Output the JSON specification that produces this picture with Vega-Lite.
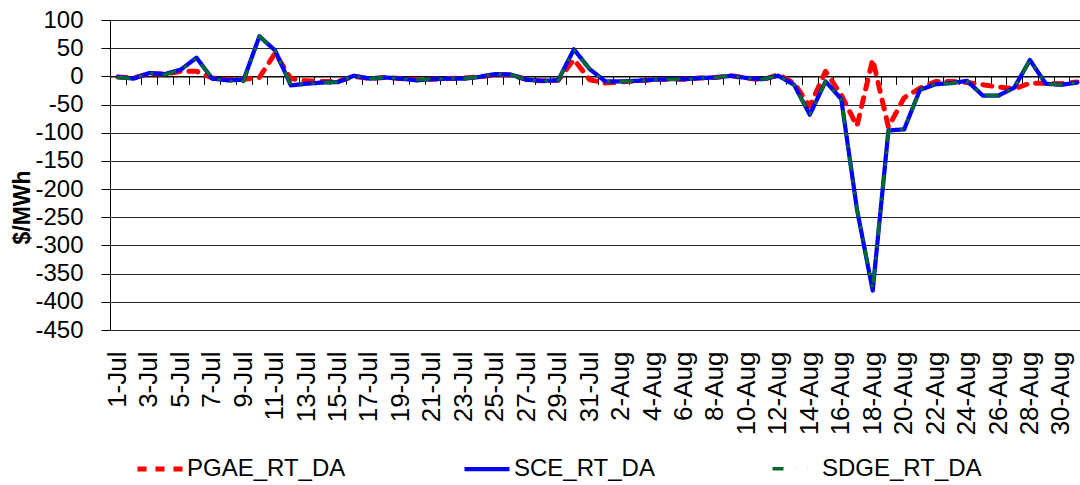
{
  "$schema": "https://vega.github.io/schema/vega-lite/v6.json",
  "autosize": {"type": "none"},
  "width": 975,
  "height": 310,
  "padding": {"left": 110, "top": 20, "right": 0, "bottom": 155},
  "background": "white",
  "config": {
    "view": {"stroke": null},
    "font": "Liberation Sans",
    "axis": {"labelFont": "Liberation Sans", "labelColor": "black", "titleColor": "black", "titleFont": "Liberation Sans"},
    "legend": {"labelFont": "Liberation Sans", "labelColor": "black"}
  },
  "data": {"values": [
    {"d":"1-Jul","s":"PGAE_RT_DA","v":-1},{"d":"2-Jul","s":"PGAE_RT_DA","v":-3},{"d":"3-Jul","s":"PGAE_RT_DA","v":5},{"d":"4-Jul","s":"PGAE_RT_DA","v":4},{"d":"5-Jul","s":"PGAE_RT_DA","v":9},{"d":"6-Jul","s":"PGAE_RT_DA","v":9},{"d":"7-Jul","s":"PGAE_RT_DA","v":-3},{"d":"8-Jul","s":"PGAE_RT_DA","v":-6},{"d":"9-Jul","s":"PGAE_RT_DA","v":-5},{"d":"10-Jul","s":"PGAE_RT_DA","v":-2},
    {"d":"11-Jul","s":"PGAE_RT_DA","v":41},{"d":"12-Jul","s":"PGAE_RT_DA","v":-4},{"d":"13-Jul","s":"PGAE_RT_DA","v":-8},{"d":"14-Jul","s":"PGAE_RT_DA","v":-9},{"d":"15-Jul","s":"PGAE_RT_DA","v":-9},{"d":"16-Jul","s":"PGAE_RT_DA","v":0},{"d":"17-Jul","s":"PGAE_RT_DA","v":-4},{"d":"18-Jul","s":"PGAE_RT_DA","v":-2},{"d":"19-Jul","s":"PGAE_RT_DA","v":-4},{"d":"20-Jul","s":"PGAE_RT_DA","v":-6},
    {"d":"21-Jul","s":"PGAE_RT_DA","v":-5},{"d":"22-Jul","s":"PGAE_RT_DA","v":-4},{"d":"23-Jul","s":"PGAE_RT_DA","v":-3},{"d":"24-Jul","s":"PGAE_RT_DA","v":-1},{"d":"25-Jul","s":"PGAE_RT_DA","v":3},{"d":"26-Jul","s":"PGAE_RT_DA","v":3},{"d":"27-Jul","s":"PGAE_RT_DA","v":-6},{"d":"28-Jul","s":"PGAE_RT_DA","v":-8},{"d":"29-Jul","s":"PGAE_RT_DA","v":-7},{"d":"30-Jul","s":"PGAE_RT_DA","v":30},
    {"d":"31-Jul","s":"PGAE_RT_DA","v":-6},{"d":"1-Aug","s":"PGAE_RT_DA","v":-12},{"d":"2-Aug","s":"PGAE_RT_DA","v":-10},{"d":"3-Aug","s":"PGAE_RT_DA","v":-8},{"d":"4-Aug","s":"PGAE_RT_DA","v":-6},{"d":"5-Aug","s":"PGAE_RT_DA","v":-5},{"d":"6-Aug","s":"PGAE_RT_DA","v":-5},{"d":"7-Aug","s":"PGAE_RT_DA","v":-3},{"d":"8-Aug","s":"PGAE_RT_DA","v":-2},{"d":"9-Aug","s":"PGAE_RT_DA","v":1},
    {"d":"10-Aug","s":"PGAE_RT_DA","v":-3},{"d":"11-Aug","s":"PGAE_RT_DA","v":-6},{"d":"12-Aug","s":"PGAE_RT_DA","v":3},{"d":"13-Aug","s":"PGAE_RT_DA","v":-12},{"d":"14-Aug","s":"PGAE_RT_DA","v":-53},{"d":"15-Aug","s":"PGAE_RT_DA","v":9},{"d":"16-Aug","s":"PGAE_RT_DA","v":-33},{"d":"17-Aug","s":"PGAE_RT_DA","v":-88},{"d":"18-Aug","s":"PGAE_RT_DA","v":30},{"d":"19-Aug","s":"PGAE_RT_DA","v":-90},
    {"d":"20-Aug","s":"PGAE_RT_DA","v":-38},{"d":"21-Aug","s":"PGAE_RT_DA","v":-21},{"d":"22-Aug","s":"PGAE_RT_DA","v":-9},{"d":"23-Aug","s":"PGAE_RT_DA","v":-9},{"d":"24-Aug","s":"PGAE_RT_DA","v":-11},{"d":"25-Aug","s":"PGAE_RT_DA","v":-15},{"d":"26-Aug","s":"PGAE_RT_DA","v":-19},{"d":"27-Aug","s":"PGAE_RT_DA","v":-22},{"d":"28-Aug","s":"PGAE_RT_DA","v":-12},{"d":"29-Aug","s":"PGAE_RT_DA","v":-12},
    {"d":"30-Aug","s":"PGAE_RT_DA","v":-13},{"d":"31-Aug","s":"PGAE_RT_DA","v":-10},

    {"d":"1-Jul","s":"SCE_RT_DA","v":-1},{"d":"2-Jul","s":"SCE_RT_DA","v":-4},{"d":"3-Jul","s":"SCE_RT_DA","v":6},{"d":"4-Jul","s":"SCE_RT_DA","v":4},{"d":"5-Jul","s":"SCE_RT_DA","v":12},{"d":"6-Jul","s":"SCE_RT_DA","v":33},{"d":"7-Jul","s":"SCE_RT_DA","v":-4},{"d":"8-Jul","s":"SCE_RT_DA","v":-7},{"d":"9-Jul","s":"SCE_RT_DA","v":-6},{"d":"10-Jul","s":"SCE_RT_DA","v":71},
    {"d":"11-Jul","s":"SCE_RT_DA","v":46},{"d":"12-Jul","s":"SCE_RT_DA","v":-16},{"d":"13-Jul","s":"SCE_RT_DA","v":-13},{"d":"14-Jul","s":"SCE_RT_DA","v":-11},{"d":"15-Jul","s":"SCE_RT_DA","v":-10},{"d":"16-Jul","s":"SCE_RT_DA","v":1},{"d":"17-Jul","s":"SCE_RT_DA","v":-4},{"d":"18-Jul","s":"SCE_RT_DA","v":-2},{"d":"19-Jul","s":"SCE_RT_DA","v":-4},{"d":"20-Jul","s":"SCE_RT_DA","v":-7},
    {"d":"21-Jul","s":"SCE_RT_DA","v":-5},{"d":"22-Jul","s":"SCE_RT_DA","v":-4},{"d":"23-Jul","s":"SCE_RT_DA","v":-4},{"d":"24-Jul","s":"SCE_RT_DA","v":-1},{"d":"25-Jul","s":"SCE_RT_DA","v":4},{"d":"26-Jul","s":"SCE_RT_DA","v":3},{"d":"27-Jul","s":"SCE_RT_DA","v":-6},{"d":"28-Jul","s":"SCE_RT_DA","v":-8},{"d":"29-Jul","s":"SCE_RT_DA","v":-7},{"d":"30-Jul","s":"SCE_RT_DA","v":48},
    {"d":"31-Jul","s":"SCE_RT_DA","v":13},{"d":"1-Aug","s":"SCE_RT_DA","v":-9},{"d":"2-Aug","s":"SCE_RT_DA","v":-9},{"d":"3-Aug","s":"SCE_RT_DA","v":-8},{"d":"4-Aug","s":"SCE_RT_DA","v":-6},{"d":"5-Aug","s":"SCE_RT_DA","v":-5},{"d":"6-Aug","s":"SCE_RT_DA","v":-5},{"d":"7-Aug","s":"SCE_RT_DA","v":-3},{"d":"8-Aug","s":"SCE_RT_DA","v":-2},{"d":"9-Aug","s":"SCE_RT_DA","v":1},
    {"d":"10-Aug","s":"SCE_RT_DA","v":-3},{"d":"11-Aug","s":"SCE_RT_DA","v":-5},{"d":"12-Aug","s":"SCE_RT_DA","v":1},{"d":"13-Aug","s":"SCE_RT_DA","v":-15},{"d":"14-Aug","s":"SCE_RT_DA","v":-68},{"d":"15-Aug","s":"SCE_RT_DA","v":-9},{"d":"16-Aug","s":"SCE_RT_DA","v":-40},{"d":"17-Aug","s":"SCE_RT_DA","v":-236},{"d":"18-Aug","s":"SCE_RT_DA","v":-380},{"d":"19-Aug","s":"SCE_RT_DA","v":-96},
    {"d":"20-Aug","s":"SCE_RT_DA","v":-94},{"d":"21-Aug","s":"SCE_RT_DA","v":-24},{"d":"22-Aug","s":"SCE_RT_DA","v":-14},{"d":"23-Aug","s":"SCE_RT_DA","v":-12},{"d":"24-Aug","s":"SCE_RT_DA","v":-8},{"d":"25-Aug","s":"SCE_RT_DA","v":-34},{"d":"26-Aug","s":"SCE_RT_DA","v":-34},{"d":"27-Aug","s":"SCE_RT_DA","v":-20},{"d":"28-Aug","s":"SCE_RT_DA","v":29},{"d":"29-Aug","s":"SCE_RT_DA","v":-13},
    {"d":"30-Aug","s":"SCE_RT_DA","v":-15},{"d":"31-Aug","s":"SCE_RT_DA","v":-11},

    {"d":"1-Jul","s":"SDGE_RT_DA","v":-2},{"d":"2-Jul","s":"SDGE_RT_DA","v":-4},{"d":"3-Jul","s":"SDGE_RT_DA","v":6},{"d":"4-Jul","s":"SDGE_RT_DA","v":3},{"d":"5-Jul","s":"SDGE_RT_DA","v":12},{"d":"6-Jul","s":"SDGE_RT_DA","v":33},{"d":"7-Jul","s":"SDGE_RT_DA","v":-4},{"d":"8-Jul","s":"SDGE_RT_DA","v":-8},{"d":"9-Jul","s":"SDGE_RT_DA","v":-9},{"d":"10-Jul","s":"SDGE_RT_DA","v":71},
    {"d":"11-Jul","s":"SDGE_RT_DA","v":46},{"d":"12-Jul","s":"SDGE_RT_DA","v":-15},{"d":"13-Jul","s":"SDGE_RT_DA","v":-12},{"d":"14-Jul","s":"SDGE_RT_DA","v":-11},{"d":"15-Jul","s":"SDGE_RT_DA","v":-10},{"d":"16-Jul","s":"SDGE_RT_DA","v":1},{"d":"17-Jul","s":"SDGE_RT_DA","v":-4},{"d":"18-Jul","s":"SDGE_RT_DA","v":-2},{"d":"19-Jul","s":"SDGE_RT_DA","v":-4},{"d":"20-Jul","s":"SDGE_RT_DA","v":-6},
    {"d":"21-Jul","s":"SDGE_RT_DA","v":-5},{"d":"22-Jul","s":"SDGE_RT_DA","v":-4},{"d":"23-Jul","s":"SDGE_RT_DA","v":-4},{"d":"24-Jul","s":"SDGE_RT_DA","v":-1},{"d":"25-Jul","s":"SDGE_RT_DA","v":4},{"d":"26-Jul","s":"SDGE_RT_DA","v":3},{"d":"27-Jul","s":"SDGE_RT_DA","v":-6},{"d":"28-Jul","s":"SDGE_RT_DA","v":-8},{"d":"29-Jul","s":"SDGE_RT_DA","v":-7},{"d":"30-Jul","s":"SDGE_RT_DA","v":47},
    {"d":"31-Jul","s":"SDGE_RT_DA","v":13},{"d":"1-Aug","s":"SDGE_RT_DA","v":-9},{"d":"2-Aug","s":"SDGE_RT_DA","v":-9},{"d":"3-Aug","s":"SDGE_RT_DA","v":-8},{"d":"4-Aug","s":"SDGE_RT_DA","v":-6},{"d":"5-Aug","s":"SDGE_RT_DA","v":-5},{"d":"6-Aug","s":"SDGE_RT_DA","v":-5},{"d":"7-Aug","s":"SDGE_RT_DA","v":-3},{"d":"8-Aug","s":"SDGE_RT_DA","v":-2},{"d":"9-Aug","s":"SDGE_RT_DA","v":1},
    {"d":"10-Aug","s":"SDGE_RT_DA","v":-3},{"d":"11-Aug","s":"SDGE_RT_DA","v":-5},{"d":"12-Aug","s":"SDGE_RT_DA","v":1},{"d":"13-Aug","s":"SDGE_RT_DA","v":-15},{"d":"14-Aug","s":"SDGE_RT_DA","v":-68},{"d":"15-Aug","s":"SDGE_RT_DA","v":-9},{"d":"16-Aug","s":"SDGE_RT_DA","v":-40},{"d":"17-Aug","s":"SDGE_RT_DA","v":-236},{"d":"18-Aug","s":"SDGE_RT_DA","v":-378},{"d":"19-Aug","s":"SDGE_RT_DA","v":-96},
    {"d":"20-Aug","s":"SDGE_RT_DA","v":-94},{"d":"21-Aug","s":"SDGE_RT_DA","v":-24},{"d":"22-Aug","s":"SDGE_RT_DA","v":-14},{"d":"23-Aug","s":"SDGE_RT_DA","v":-12},{"d":"24-Aug","s":"SDGE_RT_DA","v":-8},{"d":"25-Aug","s":"SDGE_RT_DA","v":-34},{"d":"26-Aug","s":"SDGE_RT_DA","v":-34},{"d":"27-Aug","s":"SDGE_RT_DA","v":-20},{"d":"28-Aug","s":"SDGE_RT_DA","v":29},{"d":"29-Aug","s":"SDGE_RT_DA","v":-13},
    {"d":"30-Aug","s":"SDGE_RT_DA","v":-15},{"d":"31-Aug","s":"SDGE_RT_DA","v":-11}
  ]},
  "encoding": {
    "y": {
      "field": "v", "type": "quantitative",
      "scale": {"domain": [-450, 100], "nice": false, "zero": false},
      "axis": {
        "values": [-450,-400,-350,-300,-250,-200,-150,-100,-50,0,50,100],
        "labelExpr": "'' + datum.value",
        "grid": true, "gridColor": "#000000", "gridWidth": 1, "gridOpacity": 0.85,
        "domain": true, "domainColor": "#000000", "domainWidth": 1,
        "ticks": true, "tickColor": "#000000", "tickSize": 9, "tickWidth": 1,
        "labelFontSize": 24, "labelPadding": 18,
        "title": "$/MWh", "titleFontSize": 23, "titleFontWeight": "bold",
        "titleAngle": -90, "titleX": -88, "titleY": 187, "titleAlign": "center", "titleBaseline": "middle"
      }
    }
  },
  "layer": [
    {
      "mark": {"type": "line", "opacity": 0},
      "encoding": {
        "x": {
          "field": "d", "type": "ordinal", "sort": null,
          "scale": {"type": "band", "paddingInner": 0, "paddingOuter": 0},
          "axis": {
            "orient": "bottom", "offset": -253.64,
            "labels": false, "grid": false, "title": null,
            "domain": true, "domainColor": "#000000", "domainWidth": 1.2,
            "ticks": true, "tickBand": "extent", "tickColor": "#000000", "tickSize": 8, "tickWidth": 1
          }
        }
      }
    },
    {
      "mark": {"type": "line", "strokeCap": "round", "strokeJoin": "round"},
      "encoding": {
        "x": {
          "field": "d", "type": "ordinal", "sort": null, "bandPosition": 0.5,
          "scale": {"type": "band", "paddingInner": 0, "paddingOuter": 0},
          "axis": {
            "orient": "bottom",
            "values": ["1-Jul","3-Jul","5-Jul","7-Jul","9-Jul","11-Jul","13-Jul","15-Jul","17-Jul","19-Jul","21-Jul","23-Jul","25-Jul","27-Jul","29-Jul","31-Jul","2-Aug","4-Aug","6-Aug","8-Aug","10-Aug","12-Aug","14-Aug","16-Aug","18-Aug","20-Aug","22-Aug","24-Aug","26-Aug","28-Aug","30-Aug"],
            "domain": false, "ticks": false, "tickSize": 0, "grid": false, "title": null,
            "labelAngle": -90, "labelFontSize": 26, "labelPadding": 21, "labelOverlap": false
          }
        },
        "color": {
          "field": "s", "type": "nominal",
          "scale": {"domain": ["PGAE_RT_DA","SCE_RT_DA","SDGE_RT_DA"], "range": ["#FF0000","#0000FF","#006B2E"]},
          "legend": {
            "title": null, "orient": "none", "direction": "horizontal", "columns": 3,
            "legendX": 25, "legendY": 424,
            "symbolType": "stroke", "symbolSize": 2025, "symbolStrokeWidth": 4,
            "labelFontSize": 24, "labelOffset": 2, "columnPadding": 110
          }
        },
        "strokeDash": {
          "field": "s", "type": "nominal",
          "scale": {"domain": ["PGAE_RT_DA","SCE_RT_DA","SDGE_RT_DA"], "range": [[9,9],[1,0],[11,12,0.1,12,0.1,12]]},
          "legend": {
            "title": null, "orient": "none", "direction": "horizontal", "columns": 3,
            "legendX": 25, "legendY": 424,
            "symbolType": "stroke", "symbolSize": 2025, "symbolStrokeWidth": 4,
            "labelFontSize": 24, "labelOffset": 2, "columnPadding": 110
          }
        },
        "strokeWidth": {
          "field": "s", "type": "nominal",
          "scale": {"domain": ["PGAE_RT_DA","SCE_RT_DA","SDGE_RT_DA"], "range": [5, 3.5, 3.5]},
          "legend": null
        }
      }
    }
  ],
  "resolve": {"axis": {"x": "independent"}}
}
